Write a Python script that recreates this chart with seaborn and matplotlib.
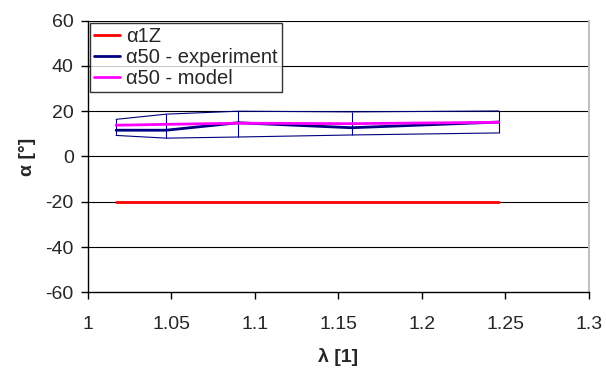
import pandas as pd
import matplotlib
matplotlib.use("Agg")
import matplotlib.pyplot as plt
import seaborn as sns

# valeurs
lam = [1.017, 1.047, 1.090, 1.158, 1.246]
alpha_1z = [-20, -20, -20, -20, -20]
alpha50_exp = [11.6, 11.6, 14.9, 12.7, 15.2]
alpha50_exp_haut = [16.4, 18.7, 20.0, 19.7, 20.1]
alpha50_exp_bas = [9.3, 8.1, 8.6, 9.5, 10.4]
alpha50_model = [13.8, 14.2, 14.7, 14.5, 15.1]

data = pd.DataFrame({"lam": lam, "a1z": alpha_1z, "exp": alpha50_exp,
                     "haut": alpha50_exp_haut, "bas": alpha50_exp_bas, "model": alpha50_model})

sns.set_style("white")
plt.rcParams['font.family'] = ['Liberation Sans', 'DejaVu Sans']
plt.rcParams['axes.unicode_minus'] = False

fig = plt.figure(figsize=(6.06, 3.69), dpi=100)
ax = fig.add_axes([0.1447, 0.2079, 0.9719 - 0.1447, 0.944 - 0.2079])

# grille horizontale
for yv in [-40, -20, 0, 20, 40, 60]:
    ax.axhline(yv, color="black", lw=0.8, zorder=0)

# enveloppe de l'expérience
sns.lineplot(x="lam", y="haut", data=data, color="#000080", lw=0.8, ax=ax)
sns.lineplot(x="lam", y="bas", data=data, color="#000080", lw=0.8, ax=ax)
ax.vlines(data.lam, data.bas, data.haut, color="#000080", lw=0.8)

sns.lineplot(x="lam", y="a1z", data=data, color="#ff0000", lw=2, ax=ax, label="α1Z")
sns.lineplot(x="lam", y="exp", data=data, color="#000080", lw=2, ax=ax, label="α50 - experiment")
sns.lineplot(x="lam", y="model", data=data, color="#ff00ff", lw=2, ax=ax, label="α50 - model")

ax.set_xlim(1, 1.3)
ax.set_ylim(-60, 60)
ax.set_xticks([1, 1.05, 1.1, 1.15, 1.2, 1.25, 1.3])
ax.set_xticklabels(["1", "1.05", "1.1", "1.15", "1.2", "1.25", "1.3"])
ax.set_yticks([-60, -40, -20, 0, 20, 40, 60])

ax.spines["top"].set_visible(False)
ax.spines["right"].set_color("#c0c0c0")
ax.spines["right"].set_linewidth(1.5)
ax.spines["left"].set_color("black")
ax.spines["bottom"].set_color("black")
ax.spines["left"].set_linewidth(1)
ax.spines["bottom"].set_linewidth(1)
ax.tick_params(axis="both", direction="out", length=5, width=1, color="black",
               labelsize=14, left=True, bottom=True)
ax.tick_params(axis="x", pad=12)
ax.tick_params(axis="y", pad=5)

ax.set_xlabel("λ [1]", fontsize=14, fontweight="bold", labelpad=11)
ax.set_ylabel("α [°]", fontsize=14, fontweight="bold", labelpad=7)

leg = ax.legend(loc="upper left", bbox_to_anchor=(0.004, 0.99), fontsize=14.5, frameon=True,
                fancybox=False, handlelength=1.3, handletextpad=0.3, borderpad=0.2,
                labelspacing=0.1, borderaxespad=0)
leg.get_frame().set_edgecolor("black")
leg.get_frame().set_linewidth(1)

plt.savefig("out.png", dpi=100)
